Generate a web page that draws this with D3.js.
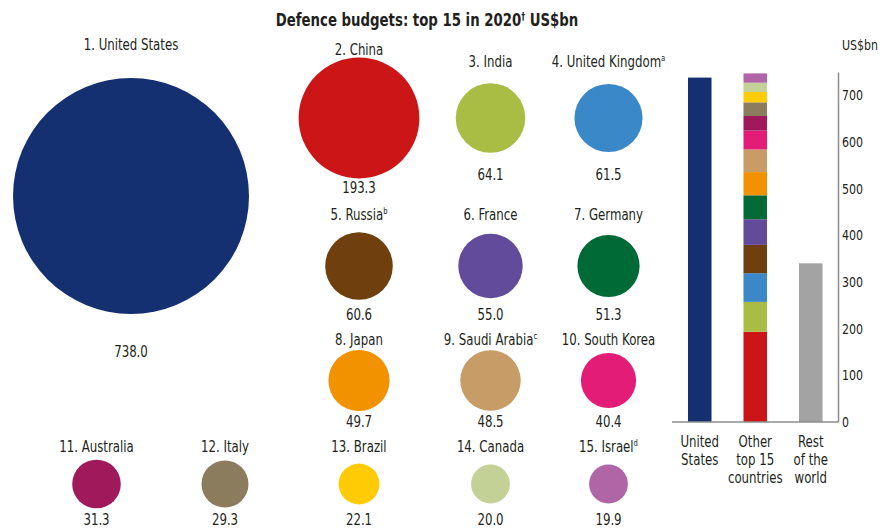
<!DOCTYPE html>
<html>
<head>
<meta charset="utf-8">
<script src="https://cdn.jsdelivr.net/npm/d3@7"></script>
<style>
  html, body { margin: 0; padding: 0; background: #fff; }
  svg { display: block; }
  text { font-family: "Liberation Sans Narrow", "Arial Narrow", "DejaVu Sans Condensed", sans-serif; fill: #231f20; }
</style>
</head>
<body>
<svg id="chart" width="880" height="529"></svg>
<script>
// ---------- data ----------
const countries = ["United States", "China", "India", "United Kingdom", "Russia", "France", "Germany",
  "Japan", "Saudi Arabia", "South Korea", "Australia", "Italy", "Brazil", "Canada", "Israel"];
const budgets = [738.0, 193.3, 64.1, 61.5, 60.6, 55.0, 51.3, 49.7, 48.5, 40.4, 31.3, 29.3, 22.1, 20.0, 19.9];
const footnotes = ["", "", "", "a", "b", "", "", "", "c", "", "", "", "", "", "d"];
const restOfWorld = 340;
const barCategories = ["United States", "Other top 15 countries", "Rest of the world"];
const barCategoryLines = [["United", "States"], ["Other", "top 15", "countries"], ["Rest", "of the", "world"]];
const yTicks = [0, 100, 200, 300, 400, 500, 600, 700];
const titleText = "Defence budgets: top 15 in 2020";
const titleNote = "†";
const titleUnit = " US$bn";
const unitLabel = "US$bn";

// ---------- styles ----------
const palette = ["#143070", "#cb1517", "#a9bd45", "#3b88c8", "#6f3f0e", "#624b9a", "#006a36",
  "#f39200", "#c79c66", "#e31c77", "#a0195b", "#8a7c5d", "#ffcb05", "#c3d197", "#b065a6"];
const restColor = "#a3a3a3";
const axisColor = "#8c8c8c";
const SX = 0.845;          // horizontal condensing of the text face
const labelSize = 15.5;

// ---------- layout ----------
const colX = [96.5, 225, 359, 490.5, 608.5];
const rowCircleY = [118, 266, 380.5, 484];
const rowLabelY = [62, 215, 340, 447];
const rowValueY = [175, 315, 422, 520];
const usPos = { cx: 131, cy: 196, ly: 45, vy: 352 };

const svg = d3.select("#chart");
const r = d3.scaleSqrt().domain([0, budgets[0]]).range([0, 118]);

function cell(i) {
  if (i === 0) return usPos;
  let col, row;
  if (i <= 9) { col = 2 + (i - 1) % 3; row = Math.floor((i - 1) / 3); }
  else { col = i - 10; row = 3; }
  const cy = rowCircleY[row], rr = r(budgets[i]);
  return {
    cx: colX[col], cy: cy,
    ly: Math.min(rowLabelY[row], cy - rr - 8),
    vy: Math.max(rowValueY[row], cy + rr + 9)
  };
}
const at = (x, y, sx) => `translate(${x},${y}) scale(${sx || SX},1)`;

const items = countries.map((c, i) => Object.assign({ name: c, value: budgets[i], note: footnotes[i], i: i }, cell(i)));

// title
const title = svg.append("text")
  .attr("transform", at(427, 26))
  .attr("text-anchor", "middle")
  .style("font-weight", "bold").style("font-size", "17.5px");
title.append("tspan").text(titleText);
title.append("tspan").attr("dy", -6).style("font-size", "10px").text(titleNote);
title.append("tspan").attr("dy", 6).text(titleUnit);

// circles
const g = svg.append("g");
g.selectAll("circle").data(items).join("circle")
  .attr("cx", d => d.cx).attr("cy", d => d.cy)
  .attr("r", d => r(d.value))
  .attr("fill", d => palette[d.i]);

const labels = g.selectAll("text.lab").data(items).join("text")
  .attr("class", "lab")
  .attr("transform", d => at(d.cx, d.ly)).attr("dy", "0.35em")
  .attr("text-anchor", "middle")
  .style("font-size", labelSize + "px");
labels.append("tspan").text(d => (d.i + 1) + ". " + d.name);
labels.filter(d => d.note).append("tspan")
  .attr("dy", -6).style("font-size", "9px").text(d => d.note);

g.selectAll("text.val").data(items).join("text")
  .attr("class", "val")
  .attr("transform", d => at(d.cx, d.vy)).attr("dy", "0.35em")
  .attr("text-anchor", "middle")
  .style("font-size", labelSize + "px")
  .text(d => d.value.toFixed(1));

// ---------- bar chart ----------
const x = d3.scaleBand().domain(barCategories).range([672, 838.5]).paddingInner(0.576).paddingOuter(0.288);
const y = d3.scaleLinear().domain([0, 750]).range([422, 72]);

const others = budgets.slice(1);
const cum = Array.from(d3.cumsum(others));
const stackData = others.map((v, k) => ({ y0: k ? cum[k - 1] : 0, y1: cum[k], color: palette[k + 1] }));

const bars = svg.append("g");
bars.append("rect")
  .attr("x", x(barCategories[0])).attr("width", x.bandwidth())
  .attr("y", y(budgets[0])).attr("height", y(0) - y(budgets[0]))
  .attr("fill", palette[0]);
bars.selectAll("rect.stk").data(stackData).join("rect")
  .attr("class", "stk")
  .attr("x", x(barCategories[1])).attr("width", x.bandwidth())
  .attr("y", d => y(d.y1)).attr("height", d => y(d.y0) - y(d.y1))
  .attr("fill", d => d.color);
bars.append("rect")
  .attr("x", x(barCategories[2])).attr("width", x.bandwidth())
  .attr("y", y(restOfWorld)).attr("height", y(0) - y(restOfWorld))
  .attr("fill", restColor);

// baseline
svg.append("line")
  .attr("x1", 672).attr("x2", 838).attr("y1", y(0)).attr("y2", y(0))
  .attr("stroke", axisColor).attr("stroke-width", 1.5);

// y axis on right
const yAxis = svg.append("g").attr("transform", "translate(838,0)")
  .call(d3.axisRight(y).tickValues(yTicks).tickSize(0).tickPadding(0));
yAxis.select(".domain").attr("stroke", axisColor).attr("stroke-width", 1.5);
yAxis.selectAll(".tick text")
  .attr("x", null)
  .attr("transform", `translate(4,0) scale(${SX},1)`)
  .style("font-family", "'Liberation Sans Narrow', 'Arial Narrow', 'DejaVu Sans Condensed', sans-serif")
  .style("font-size", "14.5px").attr("fill", "#231f20");

svg.append("text").attr("transform", at(842, 45)).attr("dy", "0.35em")
  .style("font-size", "14.5px").text(unitLabel);

// bar category labels
barCategories.forEach((c, k) => {
  const cx = x(c) + x.bandwidth() / 2;
  const t = svg.append("text")
    .attr("transform", at(cx, 442))
    .attr("text-anchor", "middle").style("font-size", labelSize + "px");
  barCategoryLines[k].forEach((line, j) => {
    t.append("tspan").attr("x", 0).attr("dy", j ? "1.16em" : "0.35em").text(line);
  });
});
</script>
</body>
</html>
